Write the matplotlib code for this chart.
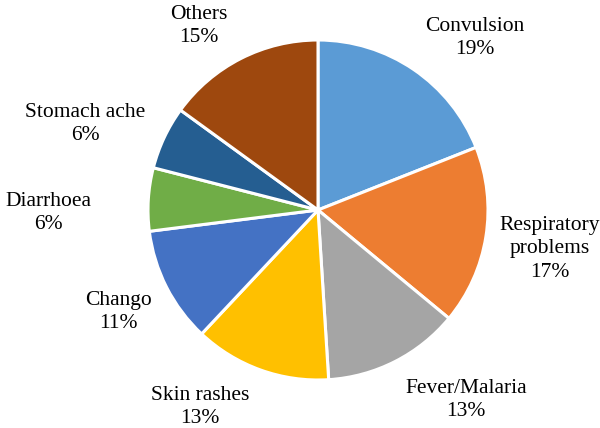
import matplotlib
matplotlib.use("Agg")
import matplotlib.pyplot as plt

plt.rcParams["font.family"] = ["Liberation Serif", "DejaVu Serif"]

categories = ["Convulsion", "Respiratory\nproblems", "Fever/Malaria", "Skin rashes",
              "Chango", "Diarrhoea", "Stomach ache", "Others"]
shares = [19, 17, 13, 13, 11, 6, 6, 15]
colors = ["#5B9BD5", "#ED7D31", "#A5A5A5", "#FFC000",
          "#4472C4", "#70AD47", "#255E91", "#9E480E"]

# pie centre and radius in pixels of the 600x428 canvas
cx, cy, r = 318, 210, 170
# label centres in pixels (from top-left), placed by eye
label_px = [(475, 38), (550, 249), (466, 400), (200, 407),
            (118, 312), (48, 213), (85, 124), (199, 26)]

fig = plt.figure(figsize=(6, 4.28), dpi=100)
ax = fig.add_axes([0, 0, 1, 1])
ax.axis("off")

wedges, _ = ax.pie(shares, colors=colors, startangle=90, counterclock=False,
                   radius=1.0, wedgeprops=dict(edgecolor="white", linewidth=2.2))

for name, val, (px, py) in zip(categories, shares, label_px):
    ax.text((px - cx) / r, (cy - py) / r, f"{name}\n{val}%",
            ha="center", va="center", fontsize=15.5, linespacing=1.3)

ax.set_xlim(-cx / r, (600 - cx) / r)
ax.set_ylim(-(428 - cy) / r, cy / r)
ax.set_aspect("auto")

plt.savefig("out.png", dpi=100)
